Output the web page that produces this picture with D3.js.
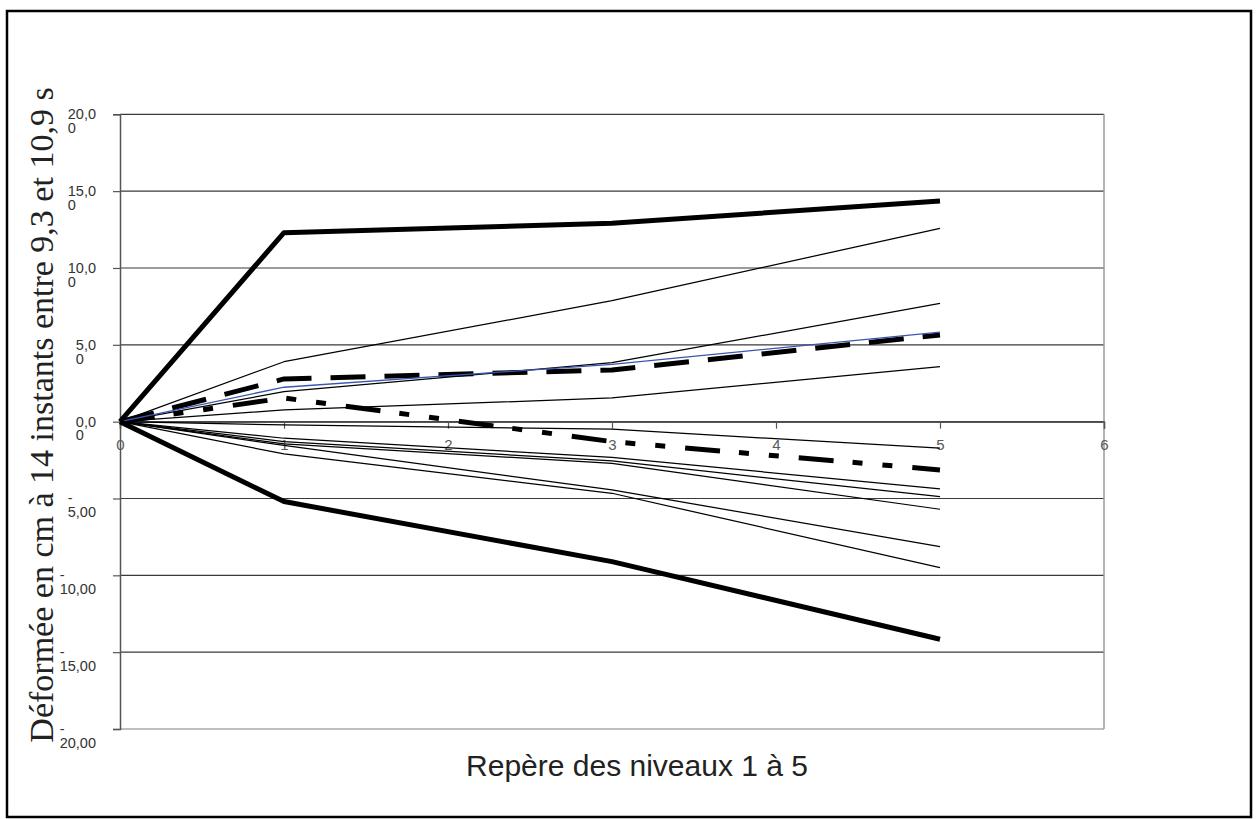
<!DOCTYPE html>
<html><head><meta charset="utf-8">
<script src="https://cdn.jsdelivr.net/npm/d3@7/dist/d3.min.js"></script>
<style>body{margin:0;background:#fff;overflow:hidden}</style>
</head><body>
<svg id="chart" width="1258" height="819"></svg>
<script>
// ---- data ----
const levels = [0, 1, 3, 5];
const thickTop    = [0, 12.30, 12.91, 14.36];
const thinUp1     = [0, 3.90, 7.87, 12.58];
const dashedUp    = [0, 2.78, 3.36, 5.64];
const thinUp2     = [0, 1.95, 3.84, 7.70];
const blueUp      = [0, 2.24, 3.73, 5.82];
const dashDotDot  = [0, 1.54, -1.30, -3.14];
const thinUp3     = [0, 0.76, 1.54, 3.58];
const thinDown1   = [0, -0.21, -0.49, -1.73];
const thinDown2   = [0, -1.08, -2.32, -4.38];
const thinDown3   = [0, -1.30, -2.56, -4.88];
const thinDown4   = [0, -1.45, -2.71, -5.70];
const thinDown5   = [0, -1.55, -4.44, -8.13];
const thinDown6   = [0, -2.10, -4.66, -9.50];
const thickBottom = [0, -5.20, -9.11, -14.16];

const xTicks = [0, 1, 2, 3, 4, 5, 6];
const yTicks = [20, 15, 10, 5, 0, -5, -10, -15, -20];
const yTickLabels = ["20,0\n0", "15,0\n0", "10,0\n0", "5,0\n0", "0,0\n0", "-\n5,00", "-\n10,00", "-\n15,00", "-\n20,00"];
const xTitle = "Repère des niveaux 1 à 5";
const yTitle = "Déformée en cm à 14 instants entre 9,3 et 10,9 s";

// ---- styles (separate from data) ----
const styleThin = {w: 1.25, c: "#000", dash: null};
const styleThick = {w: 5, c: "#000", dash: null};
const styleDash = {w: 5, c: "#000", dash: "35,19"};
const styleDDD = {w: 5, c: "#000", dash: "35,19,10,20,10,20"};
const styleBlue = {w: 1.3, c: "#3a56b0", dash: null};

const series = [
  [thinDown1, styleThin], [thinDown2, styleThin], [thinDown3, styleThin],
  [thinDown4, styleThin], [thinDown5, styleThin], [thinDown6, styleThin],
  [thinUp3, styleThin], [thinUp2, styleThin], [thinUp1, styleThin],
  [dashDotDot, styleDDD], [dashedUp, styleDash], [blueUp, styleBlue],
  [thickBottom, styleThick], [thickTop, styleThick]
];

const svg = d3.select("#chart");

// outer border
svg.append("rect").attr("x", 7).attr("y", 11).attr("width", 1244).attr("height", 806)
  .attr("fill", "#fff").attr("stroke", "#000").attr("stroke-width", 2.5);

const plot = {left: 120, right: 1104, top: 114.3, bottom: 729};
const x = d3.scaleLinear().domain([0, 6]).range([plot.left, plot.right]);
const y = d3.scaleLinear().domain([-20, 20]).range([plot.bottom, plot.top]);

// gridlines
svg.append("g").selectAll("line").data(yTicks).join("line")
  .attr("x1", plot.left).attr("x2", plot.right)
  .attr("y1", d => y(d)).attr("y2", d => y(d))
  .attr("stroke", d => d === -20 ? "#808080" : "#3a3a3a").attr("stroke-width", 1.2);

// right border of plot area
svg.append("line").attr("x1", plot.right).attr("x2", plot.right)
  .attr("y1", plot.top).attr("y2", plot.bottom).attr("stroke", "#9a9a9a").attr("stroke-width", 1.5);

// y axis
const yAxis = d3.axisLeft(y).tickValues(yTicks).tickSize(7).tickPadding(24)
  .tickFormat((d, i) => yTickLabels[i]);
const gy = svg.append("g").attr("transform", `translate(${plot.left},0)`).call(yAxis);
gy.select(".domain").attr("stroke", "#555").attr("stroke-width", 1.5);
gy.selectAll(".tick line").attr("stroke", "#555").attr("stroke-width", 1.2);
gy.selectAll(".tick text").each(function(d, i) {
  const t = d3.select(this);
  const lines = yTickLabels[i].split("\n");
  t.text(null).attr("font-family", "Liberation Sans, Arial, sans-serif").attr("font-size", 14.5)
    .attr("fill", "#333").attr("text-anchor", "start");
  lines.forEach((ln, k) => {
    t.append("tspan").attr("dy", k === 0 ? "0.3em" : "14").text(ln);
  });
  let maxw = 0;
  t.selectAll("tspan").each(function() { maxw = Math.max(maxw, this.getComputedTextLength()); });
  t.selectAll("tspan").attr("x", -24 - maxw);
});

// x axis at y=0
const xAxis = d3.axisBottom(x).tickValues(xTicks).tickSize(7).tickPadding(11).tickFormat(d => String(d));
const gx = svg.append("g").attr("transform", `translate(0,${y(0)})`).call(xAxis);
gx.select(".domain").attr("stroke", "#555").attr("stroke-width", 1.5);
gx.selectAll(".tick line").attr("stroke", "#555").attr("stroke-width", 1.2);
gx.selectAll(".tick text").attr("font-family", "Liberation Sans, Arial, sans-serif")
  .attr("font-size", 15).attr("fill", "#595959");

// series
const line = d3.line().x((d, i) => x(levels[i])).y(d => y(d));
svg.append("g").selectAll("path").data(series).join("path")
  .attr("d", d => line(d[0]))
  .attr("fill", "none")
  .attr("stroke", d => d[1].c)
  .attr("stroke-width", d => d[1].w)
  .attr("stroke-dasharray", d => d[1].dash)
  .attr("stroke-linejoin", "round");

// titles
svg.append("text").attr("x", 637).attr("y", 776).attr("text-anchor", "middle")
  .attr("font-family", "Liberation Sans, Arial, sans-serif").attr("font-size", 30)
  .attr("fill", "#222").text(xTitle);
svg.append("text").attr("transform", "translate(53,415) rotate(-90)").attr("text-anchor", "middle")
  .attr("font-family", "Liberation Serif, Times New Roman, serif").attr("font-size", 34)
  .attr("fill", "#222").text(yTitle);
</script>
</body></html>
